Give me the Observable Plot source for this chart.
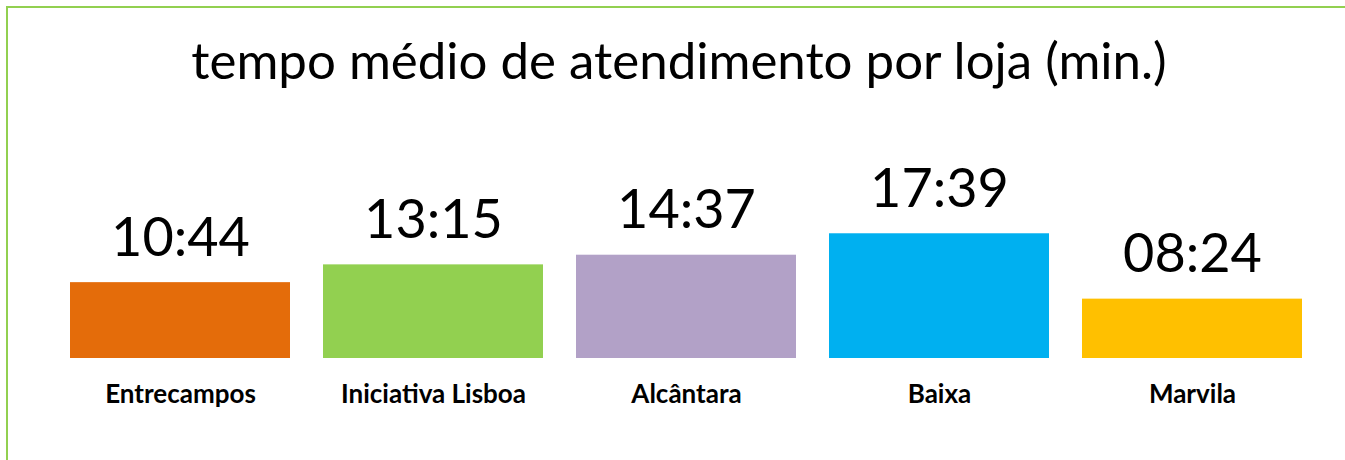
<!DOCTYPE html>
<html>
<head>
<meta charset="utf-8">
<script src="https://cdn.jsdelivr.net/npm/d3@7"></script>
<script src="https://cdn.jsdelivr.net/npm/@observablehq/plot@0.6"></script>
<style>
  html, body { margin: 0; padding: 0; background: #fff; }
  #page { position: relative; width: 1345px; height: 460px; overflow: hidden; font-family: Lato, "Open Sans", sans-serif; }
  #frame { position: absolute; left: 6px; top: 6px; right: -10px; bottom: -10px; border-top: 2px solid #92d050; border-left: 2px solid #92d050; }
  #title { position: absolute; left: 0; top: 0; width: 1345px; height: 120px; }
  #title div { position: absolute; left: 0; width: 1358px; top: 29px; text-align: center; font-size: 51px; line-height: 1.2; color: #000; white-space: nowrap; }
  #chart { position: absolute; left: 0; top: 120px; }
</style>
</head>
<body>
<div id="page">
  <div id="frame"></div>
  <div id="title"><div>tempo médio de atendimento por loja (min.)</div></div>
  <div id="chart"></div>
</div>
<script>
const stores = ["Entrecampos", "Iniciativa Lisboa", "Alcântara", "Baixa", "Marvila"];
const labels = ["10:44", "13:15", "14:37", "17:39", "08:24"];
const seconds = [644, 795, 877, 1059, 504];
const colors = ["#e46c0a", "#92d050", "#b2a1c7", "#00b0f0", "#ffc000"];

const data = stores.map((s, i) => ({store: s, value: seconds[i], label: labels[i], color: colors[i]}));

const chart = Plot.plot({
  width: 1345,
  height: 340,
  marginLeft: 37,
  marginRight: 9,
  marginTop: 26,
  marginBottom: 102,
  style: {fontFamily: "Lato, 'Open Sans', sans-serif", background: "transparent"},
  x: {domain: stores, padding: 0.13, axis: null},
  y: {domain: [0, 1800], axis: null},
  marks: [
    Plot.barY(data, {x: "store", y: "value", fill: "color"}),
    Plot.text(data, {x: "store", y: "value", text: "label", dy: -27, lineAnchor: "bottom", fontSize: 54, fill: "#000"}),
    Plot.axisX({tickSize: 0, tickPadding: 26, fontSize: 26, fontWeight: "bold", color: "#000", label: null})
  ]
});
document.getElementById("chart").appendChild(chart);
</script>
</body>
</html>
